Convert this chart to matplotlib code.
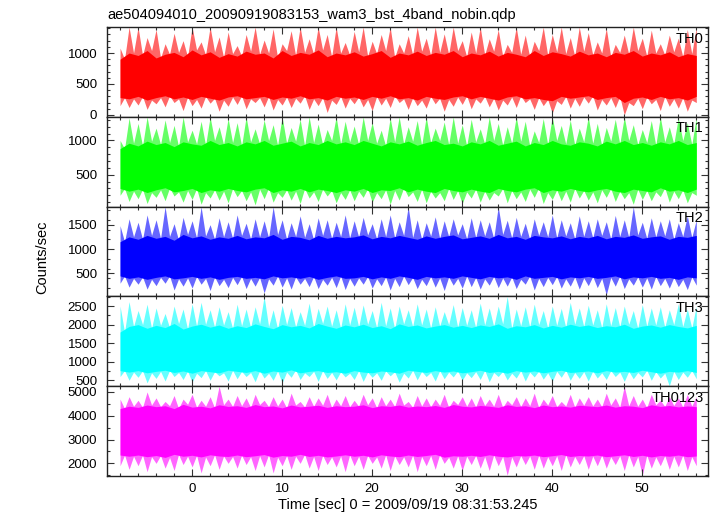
import matplotlib.pyplot as plt
import numpy as np
from matplotlib.ticker import MultipleLocator

plt.rcParams["font.family"] = ["Liberation Sans", "DejaVu Sans"]

TITLE = "ae504094010_20090919083153_wam3_bst_4band_nobin.qdp"
XLABEL = "Time [sec] 0 = 2009/09/19 08:31:53.245"
YLABEL = "Counts/sec"

# 1 s time grid, first bin at -8 s, last at 56 s
time_sec = list(range(-8, 57))

band_names = ["TH0", "TH1", "TH2", "TH3", "TH0123"]
band_colors = ["#ff0000", "#00ff00", "#0000ff", "#00ffff", "#ff00ff"]

# outer envelope (spikes) and dense core
th0_hi = [1080, 1420, 1420, 1250, 1380, 1150, 1320, 1200, 1420, 1180, 1420, 1260, 1340,
          1120, 1300, 1420, 1210, 1390, 1150, 1360, 1420, 1230, 1420, 1300, 1420, 1170,
          1350, 1420, 1190, 1300, 1420, 1150, 1280, 1420, 1240, 1420, 1310, 1420, 1200,
          1340, 1420, 1230, 1380, 1140, 1420, 1290, 1190, 1420, 1300, 1420, 1250, 1420,
          1330, 1180, 1400, 1140, 1290, 1420, 1240, 1370, 1150, 1290, 1240, 1380, 1420]
th0_lo = [150, 120, 160, 90, 180, 130, 200, 70, 150, 110, 190, 60, 140,
          170, 100, 200, 130, 80, 160, 120, 190, 90, 150, 40, 170, 110,
          180, 130, 70, 160, 120, 200, 90, 150, 110, 180, 60, 140, 170,
          100, 190, 130, 80, 160, 120, 200, 90, 150, 30, 170, 110, 140,
          190, 80, 160, 120, 0, 150, 100, 180, 70, 140, 110, 60, 200]
th0_core_hi = [900, 1000, 960, 1040, 920, 980, 1010, 940, 1050, 970, 1020, 930, 990,
               950, 1030, 980, 1000, 920, 1040, 960, 1010, 980, 1050, 940, 1000, 970,
               1020, 950, 990, 1040, 930, 1000, 970, 1030, 960, 1010, 980, 1040, 940,
               1000, 970, 1030, 950, 1010, 980, 940, 1040, 960, 1020, 990, 950, 1030,
               970, 1000, 940, 1010, 980, 1040, 950, 1000, 970, 1020, 940, 990, 960]
th0_core_lo = [280, 260, 300, 240, 280, 310, 260, 290, 250, 300, 270, 240, 290,
               310, 260, 280, 300, 250, 290, 270, 310, 260, 280, 240, 300, 270,
               290, 250, 300, 270, 310, 260, 280, 240, 300, 270, 250, 290, 310,
               260, 300, 270, 240, 290, 310, 260, 280, 250, 230, 300, 270, 290,
               310, 250, 280, 300, 200, 270, 290, 250, 300, 260, 280, 240, 300]

th1_hi = [1000, 1330, 1250, 1345, 1180, 1300, 1220, 1345, 1150, 1280, 1345, 1200, 1320,
          1260, 1345, 1170, 1300, 1230, 1345, 1190, 1310, 1345, 1240, 1160, 1345, 1280,
          1210, 1345, 1260, 1150, 1330, 1345, 1200, 1290, 1345, 1180, 1270, 1345, 1230,
          1310, 1170, 1345, 1250, 1200, 1345, 1280, 1140, 1320, 1345, 1220, 1300, 1180,
          1345, 1250, 1190, 1310, 1345, 1230, 1160, 1290, 1345, 1200, 1330, 1260, 1345]
th1_lo = [200, 110, 150, 80, 170, 120, 190, 100, 140, 70, 160, 130, 90,
          180, 120, 60, 150, 100, 170, 130, 80, 160, 110, 190, 90, 140,
          120, 170, 100, 150, 70, 130, 180, 110, 90, 160, 120, 140, 80,
          160, 100, 130, 190, 90, 150, 110, 170, 80, 140, 120, 100, 160,
          130, 90, 170, 110, 150, 70, 140, 120, 180, 100, 150, 90, 200]
th1_core_hi = [880, 960, 920, 990, 940, 970, 910, 980, 950, 930, 1000, 940, 970,
               920, 980, 950, 1000, 930, 960, 990, 920, 970, 940, 1000, 950, 980,
               940, 1000, 960, 920, 980, 950, 990, 930, 970, 1000, 940, 960, 920,
               980, 950, 1000, 930, 960, 990, 920, 970, 940, 1000, 950, 930, 980,
               960, 920, 990, 950, 1000, 940, 970, 930, 980, 950, 1000, 940, 970]
th1_core_lo = [300, 260, 290, 240, 280, 310, 250, 270, 300, 240, 280, 260, 300,
               270, 250, 290, 310, 240, 280, 260, 300, 250, 290, 270, 240, 280,
               260, 300, 240, 280, 270, 310, 250, 290, 260, 240, 300, 270, 250,
               290, 260, 240, 300, 270, 250, 290, 310, 240, 280, 260, 300, 270,
               250, 280, 300, 260, 240, 290, 270, 250, 310, 260, 280, 240, 290]

th2_hi = [1480, 1620, 1550, 1700, 1600, 1870, 1520, 1650, 1580, 1870, 1500, 1640, 1560,
          1700, 1530, 1620, 1580, 1870, 1600, 1540, 1680, 1520, 1640, 1600, 1550, 1700,
          1580, 1650, 1520, 1620, 1700, 1560, 1870, 1600, 1540, 1660, 1580, 1620, 1520,
          1640, 1600, 1560, 1870, 1590, 1650, 1530, 1620, 1560, 1700, 1600, 1540, 1680,
          1580, 1620, 1560, 1690, 1600, 1870, 1550, 1640, 1580, 1620, 1540, 1680, 1600]
th2_lo = [300, 220, 280, 180, 250, 300, 160, 240, 200, 280, 150, 250, 210,
          270, 190, 240, 100, 260, 220, 180, 280, 230, 190, 260, 210, 170,
          240, 280, 200, 250, 160, 230, 270, 190, 250, 220, 150, 260, 200,
          230, 180, 260, 210, 240, 190, 280, 160, 230, 270, 200, 240, 180,
          250, 210, 60, 240, 190, 260, 220, 180, 250, 200, 230, 170, 260]
th2_core_hi = [1150, 1250, 1200, 1280, 1220, 1260, 1180, 1300, 1230, 1270, 1200, 1250, 1220,
               1280, 1210, 1250, 1230, 1300, 1200, 1260, 1240, 1190, 1280, 1220, 1260, 1230,
               1250, 1290, 1210, 1260, 1230, 1280, 1240, 1200, 1270, 1220, 1260, 1290, 1210,
               1240, 1270, 1220, 1300, 1230, 1260, 1200, 1280, 1250, 1230, 1270, 1210, 1260,
               1230, 1280, 1210, 1260, 1240, 1290, 1220, 1250, 1270, 1200, 1260, 1240, 1280]
th2_core_lo = [450, 400, 430, 380, 420, 450, 390, 410, 440, 400, 430, 380, 420,
               440, 400, 420, 390, 450, 410, 430, 400, 440, 380, 420, 450, 400,
               410, 440, 390, 430, 400, 450, 420, 380, 440, 410, 430, 400, 450,
               420, 390, 440, 410, 430, 380, 450, 400, 420, 440, 390, 430, 410,
               440, 400, 420, 450, 390, 430, 410, 440, 400, 420, 380, 430, 410]

th3_hi = [2500, 2620, 2380, 2550, 2450, 2300, 2500, 2420, 2560, 2600, 2400, 2480, 2350,
          2550, 2420, 2480, 2760, 2400, 2520, 2460, 2350, 2580, 2440, 2500, 2400, 2560,
          2470, 2530, 2380, 2600, 2450, 2500, 2400, 2560, 2420, 2480, 2350, 2540, 2460,
          2400, 2580, 2450, 2500, 2760, 2420, 2480, 2550, 2380, 2500, 2440, 2600, 2450,
          2520, 2400, 2560, 2460, 2500, 2380, 2540, 2450, 2480, 2400, 2560, 2420, 2500]
th3_lo = [600, 500, 580, 430, 550, 480, 600, 520, 450, 570, 500, 620, 480,
          540, 600, 460, 560, 500, 430, 580, 520, 600, 470, 550, 510, 590,
          520, 470, 580, 500, 620, 450, 560, 510, 600, 480, 540, 590, 500,
          570, 520, 460, 600, 510, 560, 480, 590, 530, 470, 580, 500, 550,
          480, 560, 520, 600, 470, 540, 590, 500, 560, 350, 520, 580, 540]
th3_core_hi = [1800, 1950, 2000, 1900, 1980, 1920, 2030, 1880, 1960, 2010, 1930, 1990, 1900,
               1970, 1920, 2020, 1950, 1890, 2000, 1940, 1980, 1910, 2030, 1960, 1900, 1990,
               1940, 2010, 1920, 1970, 1890, 2020, 1950, 1990, 1910, 1960, 2000, 1930, 1980,
               1920, 1990, 1950, 2020, 1900, 1970, 1940, 2000, 1910, 1980, 1930, 2010, 1950,
               1990, 1920, 1970, 1940, 2010, 1900, 1960, 1990, 1930, 2000, 1950, 1910, 1980]
th3_core_lo = [760, 720, 760, 700, 740, 770, 710, 750, 690, 760, 730, 700, 770,
               740, 710, 760, 690, 750, 720, 780, 700, 740, 760, 710, 730, 690,
               760, 720, 700, 750, 730, 690, 770, 740, 710, 760, 720, 750, 700,
               730, 770, 710, 740, 690, 760, 720, 750, 700, 740, 770, 710, 730,
               750, 700, 760, 720, 740, 710, 770, 730, 690, 740, 720, 760, 710]

th4_hi = [4700, 4800, 4650, 5000, 4750, 4600, 4850, 4700, 4900, 4650, 4800, 5240, 4700,
          4850, 4750, 4900, 4650, 4800, 4700, 4950, 4600, 4800, 4750, 4900, 4700, 4850,
          4650, 4900, 4750, 4800, 4700, 4950, 4600, 4850, 4750, 4700, 4900, 4650, 4800,
          4750, 4850, 4700, 4900, 4650, 4800, 4750, 4950, 4700, 4850, 4600, 4900, 4750,
          4800, 4700, 4950, 4750, 5240, 4850, 4700, 4900, 4650, 4800, 4750, 4900, 4800]
th4_lo = [1900, 1750, 1900, 1650, 2000, 1800, 1700, 1950, 1850, 1600, 1900, 1750, 2000,
          1800, 1950, 1700, 1850, 1600, 1900, 1750, 2000, 1800, 1700, 1950, 1850, 1650,
          1900, 1750, 2000, 1800, 1700, 1950, 1850, 1650, 1900, 1750, 2000, 1800, 1700,
          1950, 1800, 1700, 1900, 1500, 1850, 1950, 1750, 1800, 1900, 1700, 1850, 1950,
          1750, 1900, 1800, 1950, 1700, 1850, 1500, 1800, 1900, 1750, 1850, 1700, 1900]
th4_core_hi = [4300, 4400, 4350, 4450, 4380, 4420, 4300, 4480, 4360, 4400, 4330, 4460, 4390,
               4420, 4350, 4470, 4380, 4410, 4330, 4450, 4370, 4400, 4440, 4350, 4420, 4380,
               4400, 4460, 4340, 4420, 4390, 4450, 4360, 4410, 4380, 4430, 4350, 4470, 4400,
               4370, 4430, 4400, 4350, 4460, 4390, 4420, 4340, 4450, 4380, 4410, 4360, 4440,
               4410, 4380, 4450, 4360, 4420, 4400, 4340, 4460, 4390, 4430, 4370, 4410, 4380]
th4_core_lo = [2350, 2300, 2350, 2280, 2330, 2250, 2380, 2300, 2340, 2270, 2360, 2310, 2290,
               2350, 2280, 2320, 2370, 2260, 2330, 2300, 2380, 2290, 2340, 2270, 2310, 2360,
               2300, 2340, 2270, 2360, 2310, 2280, 2350, 2290, 2330, 2380, 2260, 2320, 2300,
               2340, 2290, 2360, 2300, 2270, 2330, 2310, 2350, 2280, 2320, 2370, 2290, 2330,
               2310, 2350, 2280, 2320, 2360, 2290, 2340, 2270, 2330, 2300, 2350, 2280, 2310]

band_hi = [th0_hi, th1_hi, th2_hi, th3_hi, th4_hi]
band_lo = [th0_lo, th1_lo, th2_lo, th3_lo, th4_lo]
band_core_hi = [th0_core_hi, th1_core_hi, th2_core_hi, th3_core_hi, th4_core_hi]
band_core_lo = [th0_core_lo, th1_core_lo, th2_core_lo, th3_core_lo, th4_core_lo]

y_limits = [(-30, 1420), (35, 1345), (30, 1870), (340, 2760), (1470, 5240)]
y_major = [500, 500, 500, 500, 1000]
y_minor = [100, 100, 200, 250, 500]
x_limits = (-9.45, 57.3)


def spiky_envelope(t, hi, lo, core_hi, core_lo):
    # spike at each bin, falling back to the core level half a bin later
    x = np.column_stack([t, t + 0.5]).ravel()[:-1]
    up = np.column_stack([hi, core_hi]).ravel()[:-1]
    down = np.column_stack([lo, core_lo]).ravel()[:-1]
    return x, up, down


def style_axis(ax, major, minor):
    ax.xaxis.set_major_locator(MultipleLocator(10))
    ax.xaxis.set_minor_locator(MultipleLocator(2))
    ax.yaxis.set_major_locator(MultipleLocator(major))
    ax.yaxis.set_minor_locator(MultipleLocator(minor))
    ax.tick_params(which="both", direction="in", top=True, right=True,
                   labelsize=9.5, width=0.8, color="#333333")
    ax.tick_params(which="major", length=5)
    ax.tick_params(which="minor", length=2.5)
    ax.tick_params(axis="y", pad=7)
    ax.tick_params(axis="x", pad=5)
    for sp in ax.spines.values():
        sp.set_linewidth(1.0)
        sp.set_color("#222222")


fig = plt.figure(figsize=(7.17, 5.16), dpi=100)
left, width = 107 / 717, (708 - 107) / 717
top_px, panel_px = 27, 89.8

axes = []
t = np.array(time_sec, dtype=float)
for i, name in enumerate(band_names):
    bottom = 1 - (top_px + (i + 1) * panel_px) / 516
    ax = fig.add_axes([left, bottom, width, panel_px / 516])
    color = band_colors[i]
    x, up, down = spiky_envelope(t, band_hi[i], band_lo[i],
                                 band_core_hi[i], band_core_lo[i])
    ax.fill_between(x, down, up, color=color, alpha=0.6, lw=0)
    ax.fill_between(t, band_core_lo[i], band_core_hi[i], color=color, lw=0)
    ax.set_xlim(*x_limits)
    ax.set_ylim(*y_limits[i])
    style_axis(ax, y_major[i], y_minor[i])
    if i < len(band_names) - 1:
        ax.tick_params(axis="x", labelbottom=False)
    ax.text(0.993, 0.87, name, transform=ax.transAxes, ha="right", va="center",
            fontsize=10.5)
    axes.append(ax)

axes[-1].set_xlabel(XLABEL, fontsize=10.5, labelpad=2)
fig.text(42 / 717, 1 - 257 / 516, YLABEL, rotation=90, ha="center", va="center",
         fontsize=10.5)
fig.text(107 / 717, 1 - 15 / 516, TITLE, ha="left", va="center", fontsize=10.5)

fig.savefig("out.png", dpi=100)
plt.close(fig)
